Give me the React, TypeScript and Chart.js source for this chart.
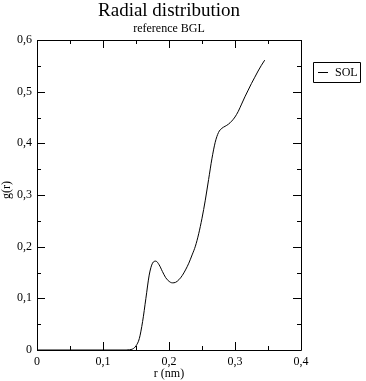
import React, { useEffect, useRef } from "react";
import { Chart, registerables } from "chart.js";

Chart.register(...registerables);

const titleText = "Radial distribution";
const subtitleText = "reference BGL";
const xAxisTitle = "r (nm)";
const yAxisTitle = "g(r)";
const seriesName = "SOL";

const rValues = [
  0.0, 0.135, 0.14, 0.145, 0.15, 0.155, 0.16, 0.165, 0.17, 0.175, 0.18, 0.185, 0.19, 0.195,
  0.2, 0.205, 0.21, 0.215, 0.22, 0.225, 0.23, 0.235, 0.24, 0.245, 0.25, 0.255,
  0.26, 0.265, 0.27, 0.275, 0.28, 0.285, 0.29, 0.295, 0.3, 0.305, 0.31, 0.315,
  0.32, 0.325, 0.33, 0.335, 0.34, 0.345,
];
const gValues = [
  0.0, 0.0, 0.0005, 0.002, 0.008, 0.022, 0.055, 0.1, 0.145, 0.168, 0.172, 0.165, 0.152, 0.14,
  0.133, 0.13, 0.131, 0.136, 0.144, 0.155, 0.168, 0.184, 0.201, 0.225, 0.255, 0.29,
  0.33, 0.37, 0.402, 0.421, 0.429, 0.433, 0.437, 0.443, 0.451, 0.462, 0.476, 0.49,
  0.503, 0.516, 0.528, 0.54, 0.551, 0.561,
];

const xMajorTicks = [0, 0.1, 0.2, 0.3, 0.4];
const yMajorTicks = [0, 0.1, 0.2, 0.3, 0.4, 0.5, 0.6];
const minorStep = 0.05;

const FONT = "'Liberation Serif', 'Times New Roman', serif";

function fmt(v: number): string {
  if (Math.abs(v) < 1e-9) return "0";
  return v.toFixed(1).replace(".", ",");
}

const framePlugin = {
  id: "graceFrame",
  afterDraw(chart: any) {
    const { ctx, chartArea } = chart;
    const { left, right, top, bottom } = chartArea;
    const xs = chart.scales.x;
    const ys = chart.scales.y;
    ctx.save();
    ctx.strokeStyle = "#000";
    ctx.lineWidth = 1;
    ctx.beginPath();
    ctx.rect(Math.round(left) + 0.5, Math.round(top) + 0.5, Math.round(right - left), Math.round(bottom - top));
    ctx.stroke();

    const major = 8;
    const minor = 4;
    ctx.beginPath();
    for (let v = 0; v <= 0.4 + 1e-9; v += minorStep) {
      const isMajor = xMajorTicks.some((m) => Math.abs(m - v) < 1e-9);
      const len = isMajor ? major : minor;
      const x = Math.round(xs.getPixelForValue(v)) + 0.5;
      ctx.moveTo(x, bottom);
      ctx.lineTo(x, bottom - len);
      ctx.moveTo(x, top);
      ctx.lineTo(x, top + len);
    }
    for (let v = 0; v <= 0.6 + 1e-9; v += minorStep) {
      const isMajor = yMajorTicks.some((m) => Math.abs(m - v) < 1e-9);
      const len = isMajor ? major : minor;
      const y = Math.round(ys.getPixelForValue(v)) + 0.5;
      ctx.moveTo(left, y);
      ctx.lineTo(left + len, y);
      ctx.moveTo(right, y);
      ctx.lineTo(right - len, y);
    }
    ctx.stroke();

    const cx = (left + right) / 2;
    ctx.fillStyle = "#000";
    ctx.textAlign = "center";
    ctx.textBaseline = "alphabetic";
    ctx.font = `19px ${FONT}`;
    ctx.fillText(titleText, cx, 16);
    ctx.font = `12px ${FONT}`;
    ctx.fillText(subtitleText, cx, 32);
    ctx.fillText(xAxisTitle, cx, 377);

    ctx.save();
    ctx.translate(7, 190);
    ctx.rotate(-Math.PI / 2);
    ctx.textBaseline = "middle";
    ctx.fillText(yAxisTitle, 0, 0);
    ctx.restore();

    // legend
    ctx.beginPath();
    ctx.rect(313.5, 62.5, 47, 20);
    ctx.stroke();
    ctx.beginPath();
    ctx.moveTo(318, 72.5);
    ctx.lineTo(328, 72.5);
    ctx.stroke();
    ctx.textAlign = "left";
    ctx.textBaseline = "middle";
    ctx.font = `12px ${FONT}`;
    ctx.fillText(seriesName, 335, 73);
    ctx.restore();
  },
};

export default function App() {
  const ref = useRef<HTMLCanvasElement | null>(null);
  useEffect(() => {
    document.body.style.margin = "0";
    const canvas = ref.current;
    if (!canvas) return;
    const chart = new Chart(canvas, {
      type: "scatter",
      data: {
        datasets: [
          {
            label: seriesName,
            data: rValues.map((r, i) => ({ x: r, y: gValues[i] })),
            showLine: true,
            borderColor: "#000",
            borderWidth: 1,
            pointRadius: 0,
            tension: 0.4,
            cubicInterpolationMode: "monotone",
            fill: false,
          },
        ],
      },
      options: {
        animation: false,
        responsive: false,
        maintainAspectRatio: false,
        layout: { padding: { left: 0, right: 65, top: 40, bottom: 0 } },
        plugins: {
          legend: { display: false },
          tooltip: { enabled: false },
          title: { display: false },
        },
        scales: {
          x: {
            type: "linear",
            min: 0,
            max: 0.4,
            afterFit: (s: any) => {
              s.height = 31;
            },
            afterBuildTicks: (s: any) => {
              s.ticks = xMajorTicks.map((v) => ({ value: v }));
            },
            grid: { display: false, drawTicks: false },
            border: { display: false },
            ticks: {
              padding: 5,
              color: "#000",
              font: { family: FONT, size: 12 },
              callback: (v: any) => fmt(Number(v)),
              maxRotation: 0,
              autoSkip: false,
            },
          },
          y: {
            type: "linear",
            min: 0,
            max: 0.6,
            afterFit: (s: any) => {
              s.width = 37;
            },
            afterBuildTicks: (s: any) => {
              s.ticks = yMajorTicks.map((v) => ({ value: v }));
            },
            grid: { display: false, drawTicks: false },
            border: { display: false },
            ticks: {
              padding: 5,
              color: "#000",
              font: { family: FONT, size: 12 },
              callback: (v: any) => fmt(Number(v)),
              autoSkip: false,
            },
          },
        },
      },
      plugins: [framePlugin],
    } as any);
    return () => chart.destroy();
  }, []);
  return <canvas ref={ref} width={366} height={381} style={{ display: "block" }} />;
}
